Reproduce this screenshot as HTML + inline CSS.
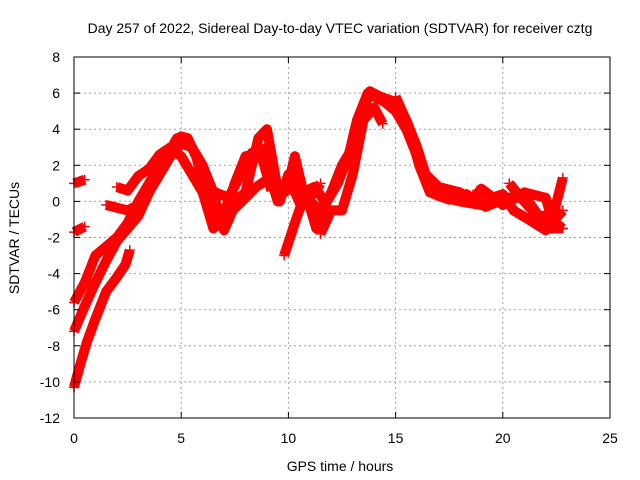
<!DOCTYPE html>
<html><head><meta charset="utf-8"><style>
body{margin:0;background:#fff}
svg{display:block;font-family:"Liberation Sans",sans-serif}
</style></head><body>
<svg id="chart" width="640" height="480">
<text x="340" y="33" font-size="14" text-anchor="middle">Day 257 of 2022, Sidereal Day-to-day VTEC variation (SDTVAR) for receiver cztg</text>
<text x="340" y="471" font-size="14" text-anchor="middle">GPS time / hours</text>
<text x="19" y="238" font-size="14" text-anchor="middle" transform="rotate(-90 19 238)">SDTVAR / TECUs</text>
<g id="grid"></g><g id="series"></g><g id="axes"></g>
</svg>
<script>
const xTicks=[0,5,10,15,20,25];
const yTicks=[-12,-10,-8,-6,-4,-2,0,2,4,6,8];
const track1=[[0,-10.3],[0.3,-9],[0.6,-7.8],[1,-6.5],[1.5,-5],[2,-4.2],[2.4,-3.5],[2.6,-2.7]];
const track2=[[0,-7.2],[0.5,-5.8],[1,-4.5],[1.5,-3.3],[2,-2.2],[2.5,-1.5],[3,-0.8],[3.5,0.5],[4,1.5],[4.5,2.5],[5,3.2],[5.5,3],[6,2],[6.5,0.5],[6.8,-1],[7,-1.6],[7.4,-0.5],[8,0.2],[8.5,0.8],[9,1.2]];
const track3=[[0,-5.6],[0.5,-4.5],[1,-3],[1.5,-2.5],[2,-2],[2.5,-1.2],[3,0],[3.5,1],[4,2]];
const track4=[[0,1],[0.5,1.2]];
const track5=[[0,-1.7],[0.5,-1.4]];
const track6=[[1.5,-0.2],[2.5,-0.5],[3,-0.2],[3.5,0.8],[4,1.8],[4.5,2.8],[5,3.6],[5.3,3.5],[5.7,2.5],[6,1],[6.3,-0.5],[6.6,0.5],[7.2,0.2],[7.8,1.5],[8.5,2.8],[9,2],[9.5,0],[10,1],[10.3,2.5],[10.7,0.5],[11.2,0.8],[11.7,0]];
const track7=[[2,0.8],[2.5,0.6],[3,1.4],[3.5,1.8],[4,2.6],[4.5,3],[5,2.5],[5.5,1.5],[6,0.5],[6.5,-1.5],[7,-1],[7.5,0],[8,0.5],[8.6,3.5],[9,4],[9.3,2],[9.6,0],[10,1.5],[10.5,1]];
const track8=[[9.8,-3],[10.3,-1.2],[10.8,0.5],[11.3,-1.5],[11.8,0],[12.3,1],[12.8,2.5],[13.2,4.5],[13.7,6],[14,5.8],[14.5,5.5],[15,5],[15.5,4],[16,2.5],[16.5,0.8],[17,0.3],[18,0],[19,-0.2],[20,0],[21,0.3],[21.5,-0.5],[22,-1.5],[22.8,-1.5]];
const track9=[[11,0],[11.5,-0.5],[12,0.5],[12.5,2],[13,3],[13.5,5],[13.8,6.1],[14.3,5.8],[15,5.5],[15.5,4.5],[16,3],[16.4,1.5],[17,0.8],[18,0.5],[18.5,0],[19,0.7],[20,-0.2],[21,0.5],[22,0.2],[22.3,-1],[22.8,1.3]];
const track10=[[11.5,-1.8],[12,-0.5],[12.5,-0.5],[13,1.5],[13.5,4.5],[14,5.2],[14.4,4.3]];
const track11=[[20.3,1],[21,0],[21.6,-0.8],[22,-0.8],[22.8,-1.5]];
const track12=[[18.8,0.6],[19.5,0.2],[20,0.4],[20.5,-0.5],[21.2,-1],[22,-1.6],[22.8,-0.5]];
const track13=[[6,1.5],[6.5,0],[7,-0.8],[7.5,1],[8,2.5],[8.5,2.6],[9,3],[9.4,1],[9.8,0.5],[10.2,0.8],[10.6,-0.3],[11,0.2],[11.5,1]];
const track14=[[4.2,2.2],[4.8,3.5],[5.4,3.2],[5.9,2],[6.4,-0.2],[6.8,-1.2],[7.3,0.3],[7.8,1.8],[8.3,2.7],[8.8,2.3],[9.2,0.6]];
const track15=[[15,5.8],[15.6,4.2],[16.1,2],[16.6,0.5],[17.5,0.1],[18.3,0.4],[19.2,-0.3],[20.2,0.2],[20.8,0.2]];
const tracks=[track1,track2,track3,track4,track5,track6,track7,track8,track9,track10,track11,track12,track13,track14,track15];

const X=t=>74+t*(536/25);
const Y=v=>418-(v+12)*(361/20);
const NS='http://www.w3.org/2000/svg';
function mk(tag,attrs,parent){const e=document.createElementNS(NS,tag);for(const k in attrs)e.setAttribute(k,attrs[k]);parent.appendChild(e);return e;}
const grid=document.getElementById('grid'),axes=document.getElementById('axes'),ser=document.getElementById('series');
xTicks.forEach(t=>{
  if(t>0&&t<25){const g=mk('line',{x1:X(t),x2:X(t),y1:57,y2:418,stroke:'#a0a0a0','stroke-dasharray':'2,3'},grid);
  
  }
  mk('line',{x1:X(t),x2:X(t),y1:418,y2:412,stroke:'#000'},axes);
  mk('line',{x1:X(t),x2:X(t),y1:57,y2:63,stroke:'#000'},axes);
  const l=mk('text',{x:X(t),y:443,'font-size':14,'text-anchor':'middle'},axes);l.textContent=t;
  
  
});
yTicks.forEach(v=>{
  if(v>-12&&v<8){const g=mk('line',{x1:74,x2:610,y1:Y(v),y2:Y(v),stroke:'#a0a0a0','stroke-dasharray':'2,3'},grid);
  
  }
  mk('line',{x1:74,x2:80,y1:Y(v),y2:Y(v),stroke:'#000'},axes);
  mk('line',{x1:604,x2:610,y1:Y(v),y2:Y(v),stroke:'#000'},axes);
  const l=mk('text',{x:60,y:Y(v)+5,'font-size':14,'text-anchor':'end'},axes);l.textContent=v;
  
  
});
const frame=mk('rect',{x:74,y:57,width:536,height:361,fill:'none',stroke:'#000'},axes);


tracks.forEach((tr,i)=>{
  const p=mk('polyline',{points:tr.map(d=>X(d[0])+','+Y(d[1])).join(' '),fill:'none',stroke:'#f00','stroke-width':10,'stroke-linejoin':'round','stroke-linecap':'butt'},ser);
  
  
  tr.forEach(d=>{
    const m=mk('path',{d:`M${X(d[0])-5},${Y(d[1])}h10M${X(d[0])},${Y(d[1])-5}v10`,stroke:'#f00','stroke-width':1.5},ser);
    
    
  });
});
</script>
</body></html>
